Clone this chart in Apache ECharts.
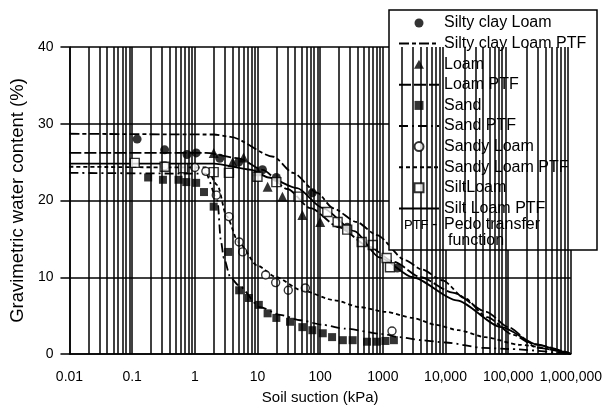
<!DOCTYPE html>
<html><head><meta charset="utf-8">
<script src="https://cdn.jsdelivr.net/npm/echarts/dist/echarts.min.js"></script>
<style>html,body{margin:0;padding:0;background:#fff}#c{width:605px;height:415px}</style>
</head><body><div id="c"></div>
<script>
// tick labels
const xTickLabels = ['0.01','0.1','1','10','100','1000','10,000','100,000','1,000,000'];
const yMin = 0, yMax = 40, yStep = 10;

// observed points (suction kPa, gravimetric water content %)
const siltyClayLoamX = [0.12, 0.33, 0.75, 1.05, 2.5, 5, 12, 20, 75, 270, 1700];
const siltyClayLoamY = [28.0, 26.6, 26.0, 26.2, 25.5, 25.0, 24.0, 23.0, 21.0, 16.5, 11.2];
const loamX = [2.0, 4, 6, 10, 14.5, 25, 52, 100];
const loamY = [26.2, 25.0, 25.6, 23.8, 21.8, 20.5, 18.1, 17.2];
const sandX = [0.18, 0.31, 0.55, 0.73, 1.05, 1.4, 2.0, 3.4, 5.1, 7.3, 10.5, 14.5, 20, 33, 52, 75, 110, 155, 230, 330, 560, 800, 1100, 1500];
const sandY = [23.0, 22.7, 22.7, 22.4, 22.3, 21.1, 19.2, 13.3, 8.3, 7.3, 6.4, 5.3, 4.7, 4.2, 3.5, 3.1, 2.7, 2.2, 1.8, 1.8, 1.6, 1.6, 1.7, 1.8];
const sandyLoamX = [0.33, 1.0, 1.5, 2.2, 3.5, 5.1, 5.8, 13.5, 19.5, 31, 58, 1400];
const sandyLoamY = [24.5, 24.3, 23.8, 20.7, 17.9, 14.6, 13.3, 10.3, 9.3, 8.3, 8.6, 3.0];
const siltLoamX = [0.11, 0.33, 0.65, 2.0, 3.5, 10, 20, 45, 130, 190, 270, 460, 690, 1150, 1300];
const siltLoamY = [24.9, 24.4, 24.2, 23.7, 23.6, 23.1, 22.4, 20.5, 18.5, 17.2, 16.2, 14.6, 14.2, 12.5, 11.3];

// pedo transfer function curves
const siltyClayLoamPtfX = [0.01, 2, 3.7, 18, 37, 90, 160, 380, 800, 2300, 4200, 9000, 20000, 46000, 120000, 300000, 1000000];
const siltyClayLoamPtfY = [28.7, 28.6, 28.3, 25.7, 23.6, 21.0, 19.0, 17.2, 15.5, 12.2, 11.0, 9.6, 7.3, 4.8, 2.5, 0.8, 0];
const loamPtfX = [0.01, 1.5, 5, 12, 30, 70, 200, 600, 1500, 4000, 13000, 45000, 100000, 250000, 1000000];
const loamPtfY = [26.2, 26.2, 25.5, 24.0, 21.5, 19.0, 16.5, 14.0, 12.0, 10.0, 8.0, 5.5, 3.5, 1.3, 0];
const sandPtfX = [0.01, 1.5, 2.3, 2.6, 2.9, 3.7, 4.9, 11, 23, 48, 110, 250, 1000, 1800, 4200, 10000, 40000, 100000, 1000000];
const sandPtfY = [23.6, 23.5, 20.0, 14.8, 12.5, 10.0, 9.0, 6.1, 5.1, 4.4, 3.8, 3.3, 2.6, 2.2, 1.8, 1.5, 0.8, 0.65, 0];
const sandyLoamPtfX = [0.01, 1.5, 2.3, 3.2, 5, 10, 20, 50, 170, 430, 1100, 3000, 7000, 16000, 43000, 150000, 1000000];
const sandyLoamPtfY = [24.4, 24.3, 22.0, 18.0, 14.5, 11.5, 10.0, 8.3, 7.0, 6.1, 5.5, 4.7, 3.8, 3.1, 2.2, 1.2, 0];
const siltLoamPtfX = [0.01, 2, 8, 15, 43, 110, 350, 880, 3000, 15000, 78000, 300000, 800000, 1000000];
const siltLoamPtfY = [24.8, 24.8, 24.0, 23.0, 21.6, 19.0, 16.0, 12.6, 10.0, 7.0, 3.5, 1.2, 0.3, 0];

const zip = (xs, ys) => xs.map((x, i) => [x, ys[i]]);

// minor log grid positions (2..9 per decade)
const minorGrid = [];
for (let e = -2; e < 6; e++) for (let k = 2; k <= 9; k++) minorGrid.push({ xAxis: k * Math.pow(10, e) });

const FONT = 'Liberation Sans, Arial, sans-serif';
const black = '#000';
const lineBase = { type: 'line', symbol: 'none', smooth: 0.25, smoothMonotone: 'x', z: 2 };
const hideSym = { color: 'rgba(0,0,0,0)', borderColor: 'rgba(0,0,0,0)', borderWidth: 0, opacity: 0 };
const triIcon = 'path://M5,0 L10,9 L0,9 Z';
const sqIcon = 'path://M0,0 L10,0 L10,10 L0,10 Z';

const chart = echarts.init(document.getElementById('c'));
chart.setOption({
  animation: false,
  backgroundColor: '#fff',
  textStyle: { fontFamily: FONT, color: black },
  grid: { left: 68, right: 32, top: 47, bottom: 61 },
  xAxis: {
    type: 'log', logBase: 10, min: 0.01, max: 1000000,
    name: 'Soil suction (kPa)', nameLocation: 'middle', nameGap: 36,
    nameTextStyle: { fontSize: 15, color: black, fontFamily: FONT },
    axisLine: { lineStyle: { color: black, width: 1.5 } },
    axisTick: { show: false },
    axisLabel: {
      fontSize: 14, color: black, margin: 16, fontFamily: FONT,
      formatter: v => xTickLabels[Math.round(Math.log10(v)) + 2] || ''
    },
    splitLine: { show: true, lineStyle: { color: black, width: 1.5 } }
  },
  yAxis: {
    type: 'value', min: yMin, max: yMax, interval: yStep,
    name: 'Gravimetric water content (%)', nameLocation: 'middle', nameGap: 40, nameRotate: 90,
    nameTextStyle: { fontSize: 18.5, color: black, fontFamily: FONT },
    axisLine: { show: true, lineStyle: { color: black, width: 1.5 } },
    axisTick: { show: true, length: 9, lineStyle: { color: black, width: 1.5 } },
    axisLabel: { fontSize: 14, color: black, margin: 16, fontFamily: FONT },
    splitLine: { show: true, lineStyle: { color: black, width: 1.5 } }
  },
  legend: {
    orient: 'vertical', left: 398, top: 15, padding: 0,
    itemWidth: 40, itemHeight: 9, itemGap: 4.6, symbolKeepAspect: true,
    textStyle: { fontSize: 16, color: black, fontFamily: FONT, lineHeight: 16 },
    z: 6,
    data: [
      { name: 'Silty clay Loam' },
      { name: 'Silty clay Loam PTF', itemStyle: hideSym },
      { name: 'Loam', icon: triIcon },
      { name: 'Loam PTF', itemStyle: hideSym },
      { name: 'Sand', icon: sqIcon },
      { name: 'Sand PTF', itemStyle: hideSym },
      { name: 'Sandy Loam' },
      { name: 'Sandy Loam PTF', itemStyle: hideSym },
      { name: 'SiltLoam', icon: sqIcon },
      { name: 'Silt Loam PTF', itemStyle: hideSym }
    ]
  },
  graphic: [
    { type: 'rect', z: 5, shape: { x: 389, y: 10, width: 208, height: 240 },
      style: { fill: '#fff', stroke: black, lineWidth: 1.5 } },
    { type: 'text', z: 7, left: 404, top: 219,
      style: { text: 'PTF', fontSize: 13, fontFamily: FONT, fill: black } },
    { type: 'text', z: 7, left: 432, top: 217,
      style: { text: '-', fontSize: 16, fontFamily: FONT, fill: black } },
    { type: 'text', z: 7, left: 444, top: 217,
      style: { text: 'Pedo transfer', fontSize: 16, fontFamily: FONT, fill: black } },
    { type: 'text', z: 7, left: 448, top: 233,
      style: { text: 'function', fontSize: 16, fontFamily: FONT, fill: black } }
  ],
  series: [
    { name: 'Silty clay Loam', type: 'scatter', symbol: 'circle', symbolSize: 9, z: 3,
      itemStyle: { color: black }, data: zip(siltyClayLoamX, siltyClayLoamY),
      markLine: { silent: true, symbol: 'none', label: { show: false }, animation: false,
        lineStyle: { color: black, width: 1.5, type: 'solid' }, data: minorGrid } },
    Object.assign({}, lineBase, { name: 'Silty clay Loam PTF', itemStyle: { color: black },
      lineStyle: { color: black, width: 1.8, type: [10, 3, 4, 3] }, data: zip(siltyClayLoamPtfX, siltyClayLoamPtfY) }),
    { name: 'Loam', type: 'scatter', symbol: 'triangle', symbolSize: 10, z: 3,
      itemStyle: { color: black }, data: zip(loamX, loamY) },
    Object.assign({}, lineBase, { name: 'Loam PTF', itemStyle: { color: black },
      lineStyle: { color: black, width: 1.8, type: [12, 3] }, data: zip(loamPtfX, loamPtfY) }),
    { name: 'Sand', type: 'scatter', symbol: 'rect', symbolSize: 8, z: 3,
      itemStyle: { color: black }, data: zip(sandX, sandY) },
    Object.assign({}, lineBase, { name: 'Sand PTF', itemStyle: { color: black },
      lineStyle: { color: black, width: 1.8, type: [9, 4, 2, 4] }, data: zip(sandPtfX, sandPtfY) }),
    { name: 'Sandy Loam', type: 'scatter', symbol: 'circle', symbolSize: 8, z: 3,
      itemStyle: { color: '#fff', borderColor: black, borderWidth: 1.4 }, data: zip(sandyLoamX, sandyLoamY) },
    Object.assign({}, lineBase, { name: 'Sandy Loam PTF', itemStyle: { color: black },
      lineStyle: { color: black, width: 1.8, type: [4, 3] }, data: zip(sandyLoamPtfX, sandyLoamPtfY) }),
    { name: 'SiltLoam', type: 'scatter', symbol: 'rect', symbolSize: 9, z: 3,
      itemStyle: { color: '#fff', borderColor: black, borderWidth: 1.4 }, data: zip(siltLoamX, siltLoamY) },
    Object.assign({}, lineBase, { name: 'Silt Loam PTF', itemStyle: { color: black },
      lineStyle: { color: black, width: 1.8, type: 'solid' }, data: zip(siltLoamPtfX, siltLoamPtfY) })
  ]
});
</script></body></html>
